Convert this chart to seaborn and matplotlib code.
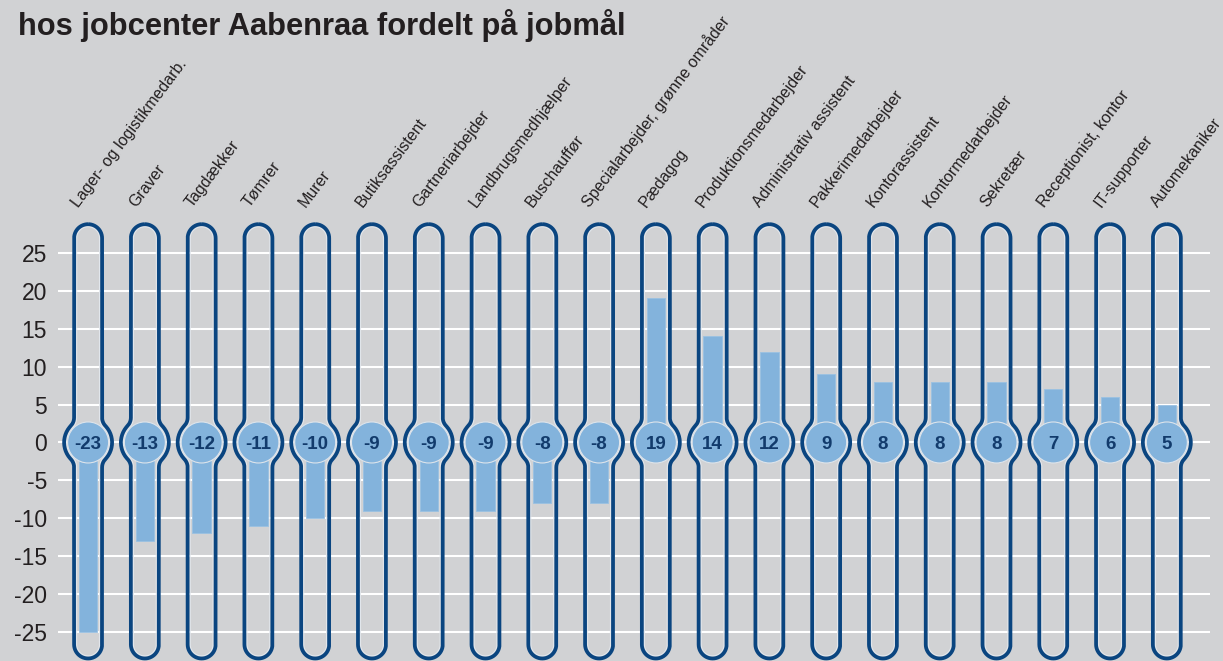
import numpy as np
import seaborn as sns
import matplotlib.pyplot as plt
import matplotlib.transforms as mtransforms
from matplotlib.path import Path
from matplotlib.patches import PathPatch, Circle

# Data
categories = [
    "Lager- og logistikmedarb.", "Graver", "Tagdækker", "Tømrer", "Murer",
    "Butiksassistent", "Gartneriarbejder", "Landbrugsmedhjælper", "Buschauffør",
    "Specialarbejder, grønne områder", "Pædagog", "Produktionsmedarbejder",
    "Administrativ assistent", "Pakkerimedarbejder", "Kontorassistent",
    "Kontormedarbejder", "Sekretær", "Receptionist, kontor", "IT-supporter",
    "Automekaniker",
]
values = [-23, -13, -12, -11, -10, -9, -9, -9, -8, -8, 19, 14, 12, 9, 8, 8, 8, 7, 6, 5]
# bar lengths as drawn (the first bar runs past its label in the original)
bar_values = [-25, -13, -12, -11, -10, -9, -9, -9, -8, -8, 19, 14, 12, 9, 8, 8, 8, 7, 6, 5]
yticks = [-25, -20, -15, -10, -5, 0, 5, 10, 15, 20, 25]
title = "hos jobcenter Aabenraa fordelt på jobmål"

# Style
BG = "#d1d2d4"
BAR = "#83b3dc"
TUBE = "#0a4580"
LABEL_BLUE = "#123b6c"
TEXT = "#231f20"
TUBE_TOP, TUBE_BOTTOM = 28.8, -28.5


def arc(cx, cy, r, a0, a1, n=40):
    t = np.radians(np.linspace(a0, a1, n))
    return np.column_stack([cx + r * np.cos(t), cy + r * np.sin(t)])


def tube_path(top, bottom, w, r_bulb, r_fil):
    # thermometer outline in pixels, centred on the bulb
    yc = np.sqrt((r_bulb + r_fil) ** 2 - (w + r_fil) ** 2)
    alpha = np.degrees(np.arctan2(yc, w + r_fil))
    right = np.vstack([
        arc(0, top - w, w, 90, 0),
        arc(w + r_fil, yc, r_fil, 180, 180 + alpha),
        arc(0, 0, r_bulb, alpha, -alpha),
        arc(w + r_fil, -yc, r_fil, 180 - alpha, 180),
        arc(0, -bottom + w, w, 0, -90),
    ])
    left = right[::-1] * [-1, 1]
    verts = np.vstack([right, left, right[:1]])
    return Path(verts)


sns.set_theme(style="white")
plt.rcParams["font.family"] = ["Liberation Sans", "DejaVu Sans"]
plt.rcParams["axes.unicode_minus"] = False

W, H = 1223, 661
fig = plt.figure(figsize=(W / 100, H / 100), dpi=100, facecolor=BG)
ax = fig.add_axes([58 / W, 0, (1210 - 58) / W, (H - 200) / H])
ax.set_facecolor(BG)

sns.barplot(x=categories, y=bar_values, color=BAR, saturation=1, width=0.323,
            edgecolor="#9ac1e2", linewidth=0.6, ax=ax, zorder=2)

ax.set_xlim(-0.53, 19.76)
ax.set_ylim(-28.83, 31.99)
ax.set_yticks(yticks)
ax.set_yticklabels([str(t) for t in yticks], fontsize=16.5, color=TEXT)
ax.tick_params(axis="y", length=0, pad=8)
ax.set_xticks([])
ax.set_xlabel("")
ax.set_ylabel("")
for s in ax.spines.values():
    s.set_visible(False)
ax.set_axisbelow(True)
ax.yaxis.grid(True, color="white", linewidth=1.5)
ax.xaxis.grid(False)

ppu = ax.transData.transform((0, 1))[1] - ax.transData.transform((0, 0))[1]
outer = tube_path(TUBE_TOP * ppu, -TUBE_BOTTOM * ppu, 14, 24, 12)
inner = tube_path(TUBE_TOP * ppu - 2.6, -TUBE_BOTTOM * ppu - 2.6, 11.4, 21.4, 14.6)

for i, v in enumerate(values):
    trans = mtransforms.Affine2D() + mtransforms.ScaledTranslation(i, 0, ax.transData)
    ax.add_patch(PathPatch(inner, transform=trans, fill=False, edgecolor="#e3e8ee",
                           linewidth=0.7, zorder=3))
    ax.add_patch(PathPatch(outer, transform=trans, fill=False, edgecolor=TUBE,
                           linewidth=2.7, zorder=4))
    ax.add_patch(Circle((0, 0), 20.5, transform=trans, facecolor=BAR,
                        edgecolor="#dde4eb", linewidth=0.8, zorder=5))
    ax.text(i, -0.3, str(v), ha="center", va="center", fontsize=13.5,
            fontweight="bold", color=LABEL_BLUE, zorder=6)
    ax.text(i - 0.16, 30.9, categories[i], rotation=53, rotation_mode="anchor",
            ha="left", va="baseline", fontsize=11.5, color=TEXT, clip_on=False)

fig.text(18 / W, 1 - 35 / H, title, ha="left", va="baseline", fontsize=22.2,
         fontweight="bold", color=TEXT)

fig.savefig("out.png", dpi=100, facecolor=BG)
